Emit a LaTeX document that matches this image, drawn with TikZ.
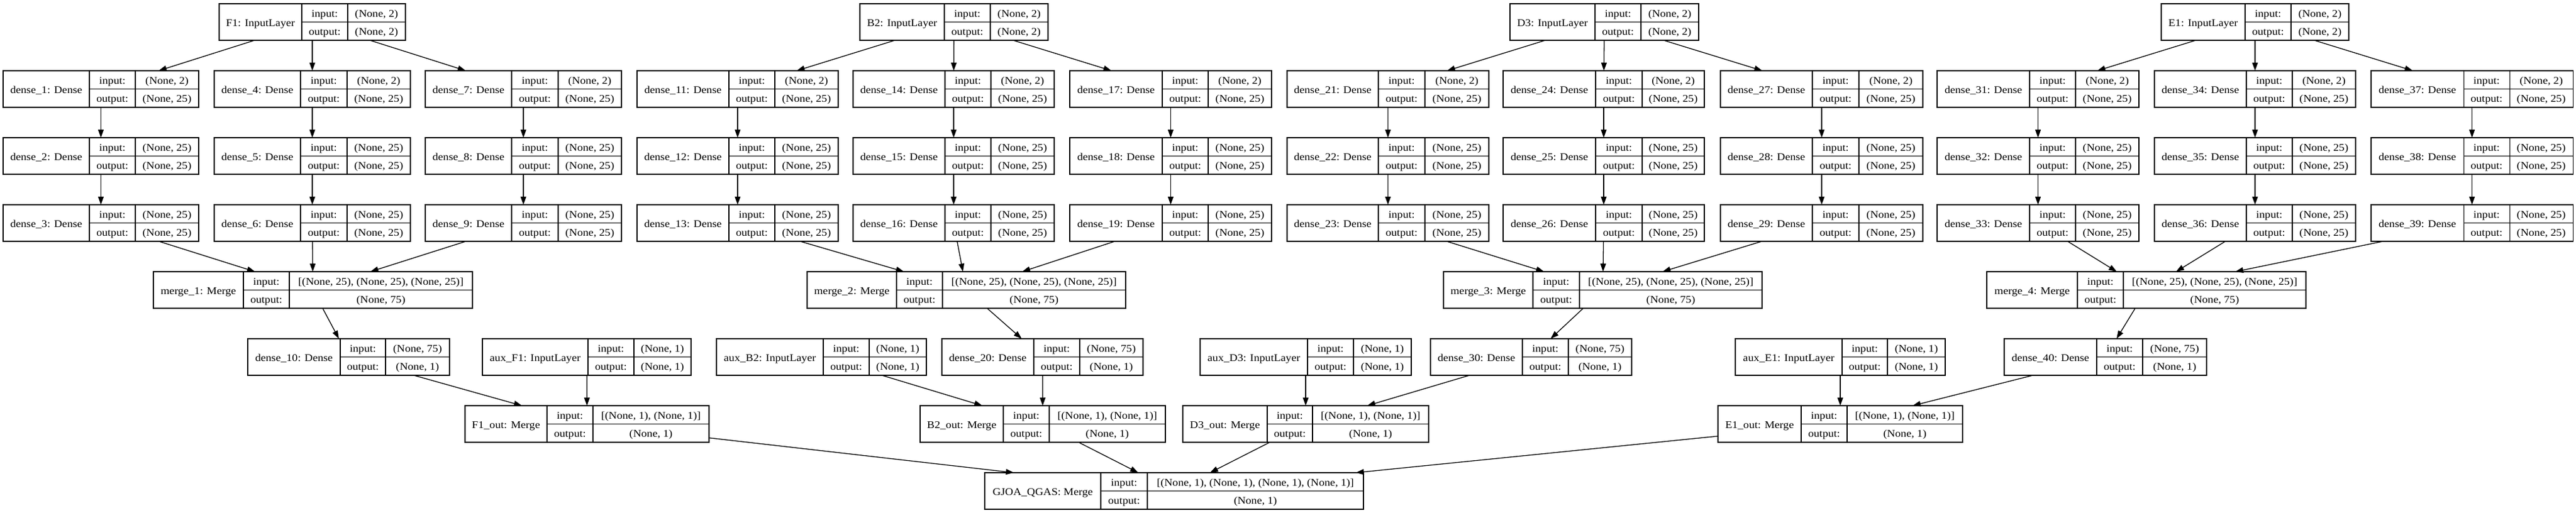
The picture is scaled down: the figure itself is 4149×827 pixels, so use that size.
\documentclass[tikz,border=0pt]{standalone}
\usepackage{fontspec}
\setmainfont{Liberation Serif}[FakeStretch=1.10]
\usetikzlibrary{arrows.meta}
\newcommand\rfont{\fontsize{16.5}{19}\selectfont}
\tikzset{
 recbox/.style={draw=black, line width=1.1pt, rectangle, inner sep=0pt, outer sep=0pt, minimum height=59pt},
 recline/.style={draw=black, line width=1.1pt},
 rectxt/.style={anchor=base, inner sep=0pt, font=\rfont},
 conn/.style={draw=black, line width=1.3pt, -{Triangle[length=13pt,width=9pt]}},
}
% #1 name, #2 x left, #3 divider 1, #4 divider 2, #5 x right, #6 y centre, #7 label, #8 input, #9 output
\newcommand\rec[9]{%
  \node[recbox, minimum width={#5pt-#2pt}] (#1) at ({(#2+#5)/2},#6) {};
  \draw[recline] (#3,#6-29.5) -- (#3,#6+29.5);
  \draw[recline] (#4,#6-29.5) -- (#4,#6+29.5);
  \draw[recline] (#3,#6) -- (#5,#6);
  \node[rectxt] at ({(#2+#3)/2},#6+6.5) {#7};
  \node[rectxt] at ({(#3+#4)/2},#6-8) {input:};
  \node[rectxt] at ({(#3+#4)/2},#6+20.8) {output:};
  \node[rectxt] at ({(#4+#5)/2},#6-8) {#8};
  \node[rectxt] at ({(#4+#5)/2},#6+20.8) {#9};
}
\begin{document}
\begin{tikzpicture}[x=1pt,y=-1pt]
\useasboundingbox (0,0) rectangle (4149,827);
% ---------- row 1: input layers
\rec{F1}{353}{486}{560}{653}{35.5}{F1: InputLayer}{(None, 2)}{(None, 2)}
\rec{B2}{1385}{1521}{1595}{1688}{35.5}{B2: InputLayer}{(None, 2)}{(None, 2)}
\rec{D3}{2432}{2569}{2643}{2736}{35.5}{D3: InputLayer}{(None, 2)}{(None, 2)}
\rec{E1}{3481}{3616}{3690}{3783}{35.5}{E1: InputLayer}{(None, 2)}{(None, 2)}
% ---------- rows 2-4: dense columns
\rec{d1}{5}{144}{218}{320}{143.5}{dense\_1: Dense}{(None, 2)}{(None, 25)}
\rec{d2}{5}{144}{218}{320}{251.5}{dense\_2: Dense}{(None, 25)}{(None, 25)}
\rec{d3}{5}{144}{218}{320}{359.5}{dense\_3: Dense}{(None, 25)}{(None, 25)}
\rec{d4}{345}{484}{559}{661}{143.5}{dense\_4: Dense}{(None, 2)}{(None, 25)}
\rec{d5}{345}{484}{559}{661}{251.5}{dense\_5: Dense}{(None, 25)}{(None, 25)}
\rec{d6}{345}{484}{559}{661}{359.5}{dense\_6: Dense}{(None, 25)}{(None, 25)}
\rec{d7}{685}{824}{899}{1001}{143.5}{dense\_7: Dense}{(None, 2)}{(None, 25)}
\rec{d8}{685}{824}{899}{1001}{251.5}{dense\_8: Dense}{(None, 25)}{(None, 25)}
\rec{d9}{685}{824}{899}{1001}{359.5}{dense\_9: Dense}{(None, 25)}{(None, 25)}
%
\rec{d11}{1026}{1174}{1248}{1350}{143.5}{dense\_11: Dense}{(None, 2)}{(None, 25)}
\rec{d12}{1026}{1174}{1248}{1350}{251.5}{dense\_12: Dense}{(None, 25)}{(None, 25)}
\rec{d13}{1026}{1174}{1248}{1350}{359.5}{dense\_13: Dense}{(None, 25)}{(None, 25)}
\rec{d14}{1374}{1522}{1596}{1698}{143.5}{dense\_14: Dense}{(None, 2)}{(None, 25)}
\rec{d15}{1374}{1522}{1596}{1698}{251.5}{dense\_15: Dense}{(None, 25)}{(None, 25)}
\rec{d16}{1374}{1522}{1596}{1698}{359.5}{dense\_16: Dense}{(None, 25)}{(None, 25)}
\rec{d17}{1723}{1872}{1946}{2048}{143.5}{dense\_17: Dense}{(None, 2)}{(None, 25)}
\rec{d18}{1723}{1872}{1946}{2048}{251.5}{dense\_18: Dense}{(None, 25)}{(None, 25)}
\rec{d19}{1723}{1872}{1946}{2048}{359.5}{dense\_19: Dense}{(None, 25)}{(None, 25)}
%
\rec{d21}{2073}{2220}{2295}{2398}{143.5}{dense\_21: Dense}{(None, 2)}{(None, 25)}
\rec{d22}{2073}{2220}{2295}{2398}{251.5}{dense\_22: Dense}{(None, 25)}{(None, 25)}
\rec{d23}{2073}{2220}{2295}{2398}{359.5}{dense\_23: Dense}{(None, 25)}{(None, 25)}
\rec{d24}{2421}{2570}{2645}{2745}{143.5}{dense\_24: Dense}{(None, 2)}{(None, 25)}
\rec{d25}{2421}{2570}{2645}{2745}{251.5}{dense\_25: Dense}{(None, 25)}{(None, 25)}
\rec{d26}{2421}{2570}{2645}{2745}{359.5}{dense\_26: Dense}{(None, 25)}{(None, 25)}
\rec{d27}{2771}{2919}{2994}{3097}{143.5}{dense\_27: Dense}{(None, 2)}{(None, 25)}
\rec{d28}{2771}{2919}{2994}{3097}{251.5}{dense\_28: Dense}{(None, 25)}{(None, 25)}
\rec{d29}{2771}{2919}{2994}{3097}{359.5}{dense\_29: Dense}{(None, 25)}{(None, 25)}
%
\rec{d31}{3120}{3269}{3343}{3445}{143.5}{dense\_31: Dense}{(None, 2)}{(None, 25)}
\rec{d32}{3120}{3269}{3343}{3445}{251.5}{dense\_32: Dense}{(None, 25)}{(None, 25)}
\rec{d33}{3120}{3269}{3343}{3445}{359.5}{dense\_33: Dense}{(None, 25)}{(None, 25)}
\rec{d34}{3470}{3618}{3692}{3794}{143.5}{dense\_34: Dense}{(None, 2)}{(None, 25)}
\rec{d35}{3470}{3618}{3692}{3794}{251.5}{dense\_35: Dense}{(None, 25)}{(None, 25)}
\rec{d36}{3470}{3618}{3692}{3794}{359.5}{dense\_36: Dense}{(None, 25)}{(None, 25)}
\rec{d37}{3819}{3968}{4042}{4144}{143.5}{dense\_37: Dense}{(None, 2)}{(None, 25)}
\rec{d38}{3819}{3968}{4042}{4144}{251.5}{dense\_38: Dense}{(None, 25)}{(None, 25)}
\rec{d39}{3819}{3968}{4042}{4144}{359.5}{dense\_39: Dense}{(None, 25)}{(None, 25)}
% ---------- row 5: merges
\rec{m1}{247}{392}{466}{761}{467.5}{merge\_1: Merge}{[(None, 25), (None, 25), (None, 25)]}{(None, 75)}
\rec{m2}{1300}{1444}{1518}{1813}{467.5}{merge\_2: Merge}{[(None, 25), (None, 25), (None, 25)]}{(None, 75)}
\rec{m3}{2325}{2469}{2544}{2838}{467.5}{merge\_3: Merge}{[(None, 25), (None, 25), (None, 25)]}{(None, 75)}
\rec{m4}{3200}{3346}{3420}{3714}{467.5}{merge\_4: Merge}{[(None, 25), (None, 25), (None, 25)]}{(None, 75)}
% ---------- row 6
\rec{d10}{399}{548}{621}{724}{575.5}{dense\_10: Dense}{(None, 75)}{(None, 1)}
\rec{aF1}{777}{947}{1021}{1113}{575.5}{aux\_F1: InputLayer}{(None, 1)}{(None, 1)}
\rec{aB2}{1154}{1326}{1400}{1492}{575.5}{aux\_B2: InputLayer}{(None, 1)}{(None, 1)}
\rec{d20}{1517}{1665}{1739}{1841}{575.5}{dense\_20: Dense}{(None, 75)}{(None, 1)}
\rec{aD3}{1933}{2106}{2180}{2273}{575.5}{aux\_D3: InputLayer}{(None, 1)}{(None, 1)}
\rec{d30}{2304}{2452}{2526}{2628}{575.5}{dense\_30: Dense}{(None, 75)}{(None, 1)}
\rec{aE1}{2795}{2967}{3040}{3133}{575.5}{aux\_E1: InputLayer}{(None, 1)}{(None, 1)}
\rec{d40}{3228}{3377}{3451}{3554}{575.5}{dense\_40: Dense}{(None, 75)}{(None, 1)}
% ---------- row 7
\rec{oF1}{749}{881}{955}{1142}{683.5}{F1\_out: Merge}{[(None, 1), (None, 1)]}{(None, 1)}
\rec{oB2}{1482}{1616}{1690}{1877}{683.5}{B2\_out: Merge}{[(None, 1), (None, 1)]}{(None, 1)}
\rec{oD3}{1905}{2041}{2114}{2301}{683.5}{D3\_out: Merge}{[(None, 1), (None, 1)]}{(None, 1)}
\rec{oE1}{2767}{2901}{2975}{3161}{683.5}{E1\_out: Merge}{[(None, 1), (None, 1)]}{(None, 1)}
% ---------- row 8
\rec{gq}{1586}{1773}{1848}{2196}{791.5}{GJOA\_QGAS: Merge}{[(None, 1), (None, 1), (None, 1), (None, 1)]}{(None, 1)}
% ---------- connectors
\foreach \s/\a/\b/\c in {F1/1/4/7, B2/11/14/17, D3/21/24/27, E1/31/34/37}{
  \draw[conn] (\s) -- (d\a);
  \draw[conn] (\s) -- (d\b);
  \draw[conn] (\s) -- (d\c);
}
\foreach \p/\q in {1/2,2/3,4/5,5/6,7/8,8/9,11/12,12/13,14/15,15/16,17/18,18/19,
                   21/22,22/23,24/25,25/26,27/28,28/29,31/32,32/33,34/35,35/36,37/38,38/39}{
  \draw[conn] (d\p) -- (d\q);
}
\foreach \a/\b/\c/\m in {3/6/9/m1, 13/16/19/m2, 23/26/29/m3, 33/36/39/m4}{
  \draw[conn] (d\a) -- (\m);
  \draw[conn] (d\b) -- (\m);
  \draw[conn] (d\c) -- (\m);
}
\draw[conn] (m1) -- (d10);
\draw[conn] (m2) -- (d20);
\draw[conn] (m3) -- (d30);
\draw[conn] (m4) -- (d40);
\draw[conn] (d10) -- (oF1);
\draw[conn] (aF1) -- (oF1);
\draw[conn] (aB2) -- (oB2);
\draw[conn] (d20) -- (oB2);
\draw[conn] (d30) -- (oD3);
\draw[conn] (aD3) -- (oD3);
\draw[conn] (aE1) -- (oE1);
\draw[conn] (d40) -- (oE1);
\draw[conn] (oF1) -- (gq);
\draw[conn] (oB2) -- (gq);
\draw[conn] (oD3) -- (gq);
\draw[conn] (oE1) -- (gq);
\end{tikzpicture}
\end{document}
